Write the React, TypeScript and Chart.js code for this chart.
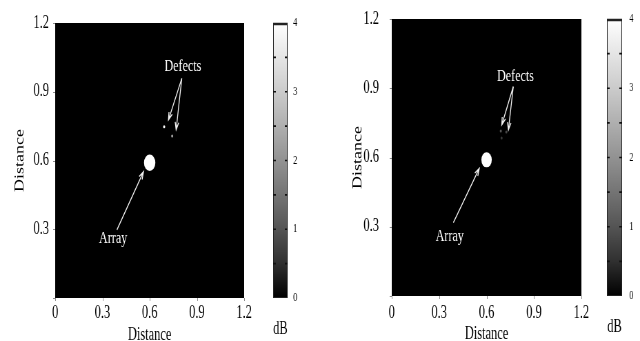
import React, { useEffect, useRef } from 'react';
import { Chart, registerables } from 'chart.js';

Chart.register(...registerables);

// ---------- data ----------
const tickValues = [0, 0.3, 0.6, 0.9, 1.2];
const tickLabels = ['0', '0.3', '0.6', '0.9', '1.2'];
const cbTickValues = [0, 1, 2, 3, 4];
const cbTickLabels = ['0', '1', '2', '3', '4'];
const cbMinorValues = [0.5, 1, 1.5, 2, 2.5, 3, 3.5];
const cbStops = [0, 0.5, 1, 1.5, 2, 2.5, 3, 3.5, 4];
const dbRange = [0, 4];
const imageExtentX = [0, 1.2];
const imageExtentY = [0, 1.2];

// panel A (left)
const arraySpotA = [{ x: 0.6, y: 0.59 }];
const arrayLevelA = [4];
const arrayRadiusA = 0.036;
const defectsA = [{ x: 0.692, y: 0.747 }, { x: 0.743, y: 0.707 }];
const defectLevelsA = [3.9, 2.2];
const arrayLabelA = { text: 'Array', x: 0.368, y: 0.258 };
const arrayArrowA = [[0.392, 0.297], [0.561, 0.551]];
const defectLabelA = { text: 'Defects', x: 0.811, y: 1.01 };
const defectArrowsA = [
  [[0.804, 0.958], [0.719, 0.777]],
  [[0.804, 0.958], [0.768, 0.734]],
];

// panel B (right)
const arraySpotB = [{ x: 0.6, y: 0.59 }];
const arrayLevelB = [4];
const arrayRadiusB = 0.033;
const defectsB = [{ x: 0.69, y: 0.715 }, { x: 0.725, y: 0.71 }, { x: 0.695, y: 0.685 }];
const defectLevelsB = [1.0, 0.8, 0.6];
const arrayLabelB = { text: 'Array', x: 0.367, y: 0.26 };
const arrayArrowB = [[0.39, 0.318], [0.554, 0.553]];
const defectLabelB = { text: 'Defects', x: 0.783, y: 0.95 };
const defectArrowsB = [
  [[0.769, 0.907], [0.696, 0.741]],
  [[0.769, 0.907], [0.738, 0.719]],
];

// ---------- layout ----------
const W = 464;
const H = 341;
const DISPLAY_W = 320;
const FONT = "'Liberation Serif', 'Times New Roman', serif";
const TICK_MARK = 3;
const GAMMA = 0.8;

function gray(level: number) {
  const t = Math.max(0, Math.min(1, (level - dbRange[0]) / (dbRange[1] - dbRange[0])));
  const v = Math.round(Math.pow(t, GAMMA) * 255);
  return `rgb(${v},${v},${v})`;
}

type Panel = {
  area: { left: number; right: number; top: number; bottom: number };
  xTickGap: number;
  xTitlePadBottom: number;
  yTickGap: number;
  yTitlePadTop: number;
  cbLabelGap: number;
  cbBar: [number, number];
  spot: { x: number; y: number }[];
  spotLevels: number[];
  spotRadius: number;
  defects: { x: number; y: number }[];
  defectLevels: number[];
  arrayLabel: { text: string; x: number; y: number };
  arrayArrow: number[][];
  defectLabel: { text: string; x: number; y: number };
  defectArrows: number[][][];
};

const panelA: Panel = {
  area: { left: 80, right: 354, top: 23, bottom: 298 },
  xTickGap: 4.5,
  xTitlePadBottom: -4.8,
  yTickGap: 9,
  yTitlePadTop: 18,
  cbLabelGap: 71,
  cbBar: [42, 63],
  spot: arraySpotA,
  spotLevels: arrayLevelA,
  spotRadius: arrayRadiusA,
  defects: defectsA,
  defectLevels: defectLevelsA,
  arrayLabel: arrayLabelA,
  arrayArrow: arrayArrowA,
  defectLabel: defectLabelA,
  defectArrows: defectArrowsA,
};

const panelB: Panel = {
  area: { left: 104, right: 379, top: 19, bottom: 296 },
  xTickGap: 6.5,
  xTitlePadBottom: -3.8,
  yTickGap: 18.5,
  yTitlePadTop: 44,
  cbLabelGap: 69.5,
  cbBar: [37, 59],
  spot: arraySpotB,
  spotLevels: arrayLevelB,
  spotRadius: arrayRadiusB,
  defects: defectsB,
  defectLevels: defectLevelsB,
  arrayLabel: arrayLabelB,
  arrayArrow: arrayArrowB,
  defectLabel: defectLabelB,
  defectArrows: defectArrowsB,
};

function drawArrow(ctx: CanvasRenderingContext2D, x0: number, y0: number, x1: number, y1: number) {
  const ang = Math.atan2(y1 - y0, x1 - x0);
  const len = 8;
  const spread = 0.33;
  ctx.beginPath();
  ctx.moveTo(x0, y0);
  ctx.lineTo(x1, y1);
  ctx.moveTo(x1 - len * Math.cos(ang - spread), y1 - len * Math.sin(ang - spread));
  ctx.lineTo(x1, y1);
  ctx.lineTo(x1 - len * Math.cos(ang + spread), y1 - len * Math.sin(ang + spread));
  ctx.stroke();
}

function makeConfig(p: Panel): any {
  const area = p.area;
  const scenePlugin = {
    id: 'scene',
    beforeDatasetsDraw(chart: any) {
      const { ctx, chartArea } = chart;
      const xs = chart.scales.x;
      const ys = chart.scales.y;
      const x0 = xs.getPixelForValue(imageExtentX[0]);
      const x1 = xs.getPixelForValue(imageExtentX[1]);
      const y0 = ys.getPixelForValue(imageExtentY[0]);
      const y1 = ys.getPixelForValue(imageExtentY[1]);
      ctx.save();
      ctx.fillStyle = gray(dbRange[0]);
      ctx.fillRect(x0, y1, x1 - x0, y0 - y1);
      // small axis tick marks
      ctx.strokeStyle = '#8a8a8a';
      ctx.lineWidth = 1;
      ctx.beginPath();
      tickValues.forEach((v) => {
        const tx = Math.round(xs.getPixelForValue(v)) + 0.5;
        ctx.moveTo(tx, chartArea.bottom);
        ctx.lineTo(tx, chartArea.bottom + TICK_MARK);
        const ty = Math.round(ys.getPixelForValue(v)) + 0.5;
        ctx.moveTo(chartArea.left - TICK_MARK, ty);
        ctx.lineTo(chartArea.left, ty);
      });
      ctx.stroke();
      ctx.restore();
    },
    afterDatasetsDraw(chart: any) {
      const { ctx } = chart;
      const xs = chart.scales.x;
      const ys = chart.scales.y;
      const px = (v: number) => xs.getPixelForValue(v);
      const py = (v: number) => ys.getPixelForValue(v);
      ctx.save();
      ctx.strokeStyle = '#f2f2f2';
      ctx.lineWidth = 1.3;
      const a = p.arrayArrow;
      drawArrow(ctx, px(a[0][0]), py(a[0][1]), px(a[1][0]), py(a[1][1]));
      p.defectArrows.forEach((d) => drawArrow(ctx, px(d[0][0]), py(d[0][1]), px(d[1][0]), py(d[1][1])));
      ctx.fillStyle = '#ffffff';
      ctx.font = `17.5px ${FONT}`;
      ctx.textAlign = 'center';
      ctx.textBaseline = 'middle';
      ctx.fillText(p.arrayLabel.text, px(p.arrayLabel.x), py(p.arrayLabel.y));
      ctx.fillText(p.defectLabel.text, px(p.defectLabel.x), py(p.defectLabel.y));
      ctx.restore();
    },
    afterDraw(chart: any) {
      const { ctx, chartArea } = chart;
      const cb = chart.scales.cb;
      const bx0 = chartArea.right + p.cbBar[0];
      const bx1 = chartArea.right + p.cbBar[1];
      const top = cb.getPixelForValue(dbRange[1]);
      const bot = cb.getPixelForValue(dbRange[0]);
      ctx.save();
      const g = ctx.createLinearGradient(0, bot, 0, top);
      cbStops.forEach((v) => {
        g.addColorStop((v - dbRange[0]) / (dbRange[1] - dbRange[0]), gray(v));
      });
      ctx.fillStyle = g;
      ctx.fillRect(bx0, top, bx1 - bx0, bot - top);
      ctx.strokeStyle = '#222';
      ctx.lineWidth = 1;
      ctx.strokeRect(bx0 + 0.5, top + 0.5, bx1 - bx0 - 1, bot - top - 1);
      ctx.lineWidth = 2.5;
      ctx.beginPath();
      ctx.moveTo(bx0, top + 1);
      ctx.lineTo(bx1, top + 1);
      ctx.stroke();
      ctx.strokeStyle = '#111';
      ctx.lineWidth = 1.6;
      cbMinorValues.forEach((v) => {
        const yv = cb.getPixelForValue(v);
        ctx.beginPath();
        ctx.moveTo(bx0, yv);
        ctx.lineTo(bx0 + 4, yv);
        ctx.moveTo(bx1 - 4, yv);
        ctx.lineTo(bx1, yv);
        ctx.stroke();
      });
      ctx.fillStyle = '#000';
      ctx.font = `18px ${FONT}`;
      ctx.textAlign = 'center';
      ctx.textBaseline = 'middle';
      ctx.fillText('dB', (bx0 + bx1) / 2, bot + 31);
      ctx.restore();
    },
  };

  const tickFont = { family: FONT, size: 18 };
  const titleFont = { family: FONT, size: 18 };

  return {
    type: 'scatter',
    data: {
      datasets: [
        {
          label: 'Array',
          data: p.spot,
          pointBackgroundColor: p.spotLevels.map(gray),
          pointBorderWidth: 0,
          pointRadius: (c: any) => {
            const s = c.chart.scales.x;
            return Math.abs(s.getPixelForValue(p.spotRadius) - s.getPixelForValue(0));
          },
        },
        {
          label: 'Defects',
          data: p.defects,
          pointBackgroundColor: p.defectLevels.map(gray),
          pointBorderWidth: 0,
          pointRadius: 1.5,
        },
      ],
    },
    options: {
      responsive: false,
      animation: false,
      devicePixelRatio: 1,
      events: [],
      layout: { padding: { top: area.top, left: 0, right: 0, bottom: 0 } },
      plugins: { legend: { display: false }, tooltip: { enabled: false } },
      scales: {
        x: {
          type: 'linear',
          position: 'bottom',
          min: 0,
          max: 1.2,
          afterBuildTicks: (s: any) => {
            s.ticks = tickValues.map((v) => ({ value: v }));
          },
          afterFit: (s: any) => {
            s.height = H - area.bottom;
          },
          ticks: {
            callback: (_v: any, i: number) => tickLabels[i],
            font: tickFont,
            color: '#000',
            padding: 0,
            maxRotation: 0,
            autoSkip: false,
          },
          grid: {
            display: true,
            drawOnChartArea: false,
            drawTicks: true,
            tickLength: p.xTickGap,
            color: 'rgba(0,0,0,0)',
          },
          border: { display: false },
          title: {
            display: true,
            text: 'Distance',
            font: titleFont,
            color: '#000',
            padding: { top: 0, bottom: p.xTitlePadBottom },
          },
        },
        y: {
          type: 'linear',
          position: 'left',
          min: 0,
          max: 1.2,
          afterBuildTicks: (s: any) => {
            s.ticks = tickValues.map((v) => ({ value: v }));
          },
          afterFit: (s: any) => {
            s.width = area.left;
          },
          ticks: {
            callback: (_v: any, i: number) => (i === 0 ? '' : tickLabels[i]),
            font: tickFont,
            color: '#000',
            padding: 0,
            autoSkip: false,
          },
          grid: {
            display: true,
            drawOnChartArea: false,
            drawTicks: true,
            tickLength: p.yTickGap,
            color: 'rgba(0,0,0,0)',
          },
          border: { display: false },
          title: {
            display: true,
            text: 'Distance',
            font: titleFont,
            color: '#000',
            padding: { top: p.yTitlePadTop, bottom: 0 },
          },
        },
        cb: {
          type: 'linear',
          position: 'right',
          min: dbRange[0],
          max: dbRange[1],
          afterBuildTicks: (s: any) => {
            s.ticks = cbTickValues.map((v) => ({ value: v }));
          },
          afterFit: (s: any) => {
            s.width = W - area.right;
          },
          ticks: {
            callback: (_v: any, i: number) => cbTickLabels[i],
            font: { family: FONT, size: 12 },
            color: '#000',
            padding: 0,
            autoSkip: false,
          },
          grid: {
            display: true,
            drawOnChartArea: false,
            drawTicks: true,
            tickLength: p.cbLabelGap,
            color: 'rgba(0,0,0,0)',
          },
          border: { display: false },
        },
      },
    },
    plugins: [scenePlugin],
  };
}

function PanelChart({ panel, left }: { panel: Panel; left: number }) {
  const ref = useRef<HTMLCanvasElement>(null);
  useEffect(() => {
    const c = ref.current;
    if (!c) return;
    const chart = new Chart(c, makeConfig(panel));
    return () => chart.destroy();
  }, [panel]);
  return (
    <canvas
      ref={ref}
      width={W}
      height={H}
      style={{ position: 'absolute', left, top: 0, width: `${DISPLAY_W}px`, height: `${H}px`, display: 'block' }}
    />
  );
}

export default function App() {
  return (
    <div
      style={{
        position: 'fixed',
        left: 0,
        top: 0,
        width: 640,
        height: 341,
        background: '#fff',
        overflow: 'hidden',
      }}
    >
      <PanelChart panel={panelA} left={0} />
      <PanelChart panel={panelB} left={320} />
    </div>
  );
}
